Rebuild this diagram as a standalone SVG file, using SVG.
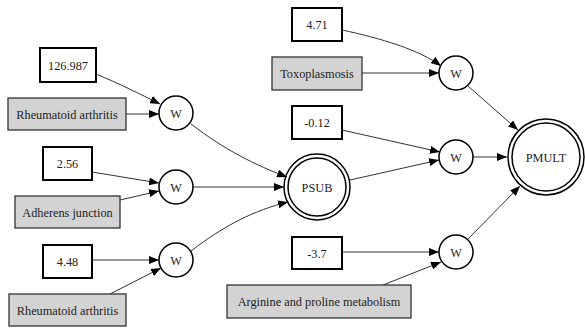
<svg xmlns="http://www.w3.org/2000/svg" width="585" height="329" viewBox="0 0 585 329">
<style>
.num{fill:#fff;stroke:#000;stroke-width:2}
.lab{fill:#d3d3d3;stroke:#333;stroke-width:1.3}
.w{fill:#fff;stroke:#000;stroke-width:1.5}
.dbl{fill:none;stroke:#000;stroke-width:1.5}
.t{font-family:'Liberation Serif','DejaVu Serif',serif;font-size:12.3px;fill:#222;text-anchor:middle}
.e{fill:none;stroke:#333;stroke-width:1;marker-end:url(#ah)}
</style>
<defs>
<marker id="ah" viewBox="0 0 10 8" refX="10" refY="4" markerWidth="10" markerHeight="8" markerUnits="userSpaceOnUse" orient="auto">
<path d="M0,0 L10,4 L0,8 z" fill="#000"/>
</marker>
</defs>
<g id="connectors">
<path class="e" d="M96,74 C120,84 140,94 160,104"/>
<path class="e" d="M126,114 L159,114"/>
<path class="e" d="M92,172 L159,183"/>
<path class="e" d="M120,200 L159,191"/>
<path class="e" d="M92,260 L159,260"/>
<path class="e" d="M110,294 L161,268"/>
<path class="e" d="M191,124 C225,150 255,165 287,177"/>
<path class="e" d="M193,187 L284,187"/>
<path class="e" d="M191,251 C225,225 255,210 288,202"/>
<path class="e" d="M350,180 L439,160"/>
<path class="e" d="M342,30 C380,38 420,50 441,66"/>
<path class="e" d="M362,73 L439,73"/>
<path class="e" d="M342,130 L440,152"/>
<path class="e" d="M342,252 L439,252"/>
<path class="e" d="M383,285 L441,262"/>
<path class="e" d="M468,86 L518,130"/>
<path class="e" d="M473,157 L507,157"/>
<path class="e" d="M468,239 L520,186"/>
</g>
<g class="t">
<g id="n126"><rect class="num" x="40" y="48" width="56" height="34"/><text x="68" y="69.5">126.987</text></g>
<g id="ra1"><rect class="lab" x="8" y="98" width="118" height="32"/><text x="67" y="118.5">Rheumatoid arthritis</text></g>
<g id="w1"><circle class="w" cx="176" cy="113" r="17"/><text x="176" y="117.5">W</text></g>
<g id="n256"><rect class="num" x="43" y="147" width="49" height="33"/><text x="67.5" y="168">2.56</text></g>
<g id="aj"><rect class="lab" x="15" y="196" width="105" height="32"/><text x="67.5" y="216.5">Adherens junction</text></g>
<g id="w2"><circle class="w" cx="176" cy="187" r="17"/><text x="176" y="191.5">W</text></g>
<g id="n448"><rect class="num" x="43" y="245" width="49" height="33"/><text x="67.5" y="266">4.48</text></g>
<g id="ra2"><rect class="lab" x="9" y="294" width="117" height="32"/><text x="67.5" y="314.5">Rheumatoid arthritis</text></g>
<g id="w3"><circle class="w" cx="176" cy="260" r="17"/><text x="176" y="264.5">W</text></g>
<g id="psub"><circle class="dbl" cx="317" cy="187" r="33"/><circle class="dbl" cx="317" cy="187" r="29"/><text x="317" y="191.5">PSUB</text></g>
<g id="n471"><rect class="num" x="292" y="8" width="50" height="33"/><text x="317" y="29">4.71</text></g>
<g id="toxo"><rect class="lab" x="272" y="57" width="90" height="33"/><text x="317" y="78">Toxoplasmosis</text></g>
<g id="n012"><rect class="num" x="292" y="106" width="50" height="33"/><text x="317" y="127">-0.12</text></g>
<g id="n37"><rect class="num" x="292" y="237" width="50" height="32"/><text x="317" y="257.5">-3.7</text></g>
<g id="arg"><rect class="lab" x="227" y="285" width="184" height="33"/><text x="319" y="306">Arginine and proline metabolism</text></g>
<g id="w4"><circle class="w" cx="456" cy="73" r="17"/><text x="456" y="77.5">W</text></g>
<g id="w5"><circle class="w" cx="456" cy="157" r="17"/><text x="456" y="161.5">W</text></g>
<g id="w6"><circle class="w" cx="456" cy="252" r="17"/><text x="456" y="256.5">W</text></g>
<g id="pmult"><circle class="dbl" cx="546" cy="157" r="38"/><circle class="dbl" cx="546" cy="157" r="34"/><text x="546" y="161.5">PMULT</text></g>
</g>
</svg>
